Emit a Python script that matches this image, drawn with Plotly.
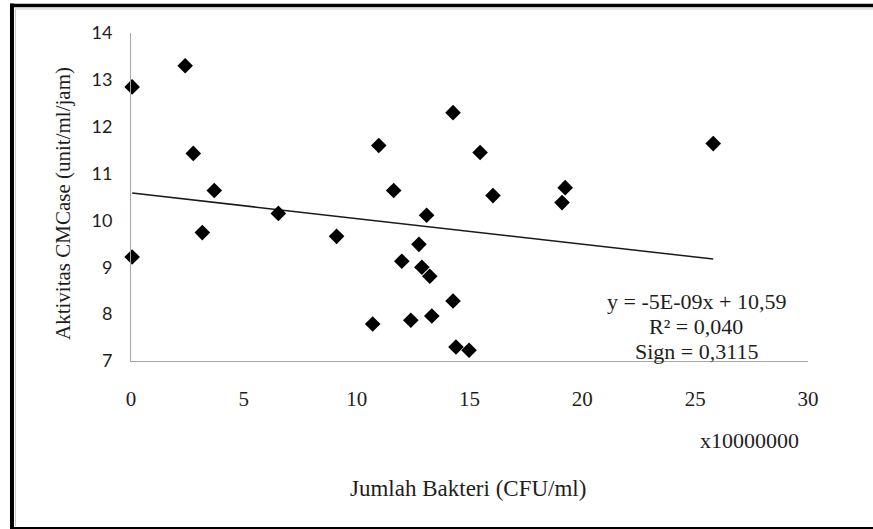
import numpy as np
import plotly.graph_objects as go

# Jumlah bakteri (x 10^7 CFU/ml) and CMCase activity (unit/ml/jam)
bakteri = [0.05, 0.05, 2.4, 2.76, 3.16, 3.69, 6.53, 9.11, 10.98, 10.71, 11.64, 12.0, 12.4,
           12.76, 12.89, 13.1, 13.24, 13.33, 14.27, 14.27, 14.4, 14.98, 15.47, 16.04,
           19.1, 19.24, 25.8]
aktivitas = [12.85, 9.22, 13.30, 11.43, 9.74, 10.64, 10.15, 9.66, 11.6, 7.79, 10.64, 9.13, 7.87,
             9.49, 9.0, 10.11, 8.81, 7.96, 12.3, 8.28, 7.3, 7.23, 11.45, 10.53,
             10.38, 10.70, 11.64]

x_ticks = [0, 5, 10, 15, 20, 25, 30]
y_ticks = [7, 8, 9, 10, 11, 12, 13, 14]

eq_lines = ["y = -5E-09x + 10,59", "R² = 0,040", "Sign = 0,3115"]
x_title = "Jumlah Bakteri (CFU/ml)"
y_title = "Aktivitas CMCase (unit/ml/jam)"
x_scale = "x10000000"

slope, intercept = np.polyfit(bakteri, aktivitas, 1)
trend_x = [min(bakteri), max(bakteri)]
trend_y = [intercept + slope * v for v in trend_x]

SERIF = "Liberation Serif, Times New Roman, serif"
TXT = "#1e1e1e"

fig = go.Figure()
fig.add_trace(go.Scatter(x=trend_x, y=trend_y, mode="lines",
                         line=dict(color="#1a1a1a", width=1.5),
                         hoverinfo="skip", showlegend=False))
fig.add_trace(go.Scatter(x=bakteri, y=aktivitas, mode="markers",
                         marker=dict(symbol="diamond", size=12, color="black"),
                         cliponaxis=False, showlegend=False))

eq_y = [0.1808, 0.1046, 0.0284]
annotations = [
    dict(text=line, xref="paper", yref="paper", x=0.8346, y=yy,
         xanchor="center", yanchor="middle", showarrow=False,
         font=dict(family=SERIF, size=22, color=TXT))
    for line, yy in zip(eq_lines, eq_y)
]
annotations += [
    dict(text=x_scale, xref="paper", yref="paper", x=0.9136, y=-0.2439,
         xanchor="center", yanchor="middle", showarrow=False,
         font=dict(family=SERIF, size=22, color=TXT)),
    dict(text=x_title, xref="paper", yref="paper", x=0.4985, y=-0.3902,
         xanchor="center", yanchor="middle", showarrow=False,
         font=dict(family=SERIF, size=23, color=TXT)),
    dict(text=y_title, xref="paper", yref="paper", x=-0.1004, y=0.4787,
         xanchor="center", yanchor="middle", showarrow=False, textangle=-90,
         font=dict(family=SERIF, size=21, color=TXT)),
]

fig.update_layout(
    width=873, height=529,
    margin=dict(l=131, r=65, t=33, b=168),
    paper_bgcolor="white", plot_bgcolor="white",
    showlegend=False,
    xaxis=dict(range=[0, 30], tickvals=x_ticks, showgrid=False, zeroline=False,
               showline=True, linecolor="#a6a6a6", linewidth=1,
               ticks="", ticklabelstandoff=19,
               tickfont=dict(family=SERIF, size=21, color=TXT)),
    yaxis=dict(range=[7, 14], tickvals=y_ticks, showgrid=False, zeroline=False,
               showline=True, linecolor="#a6a6a6", linewidth=1,
               ticks="", ticklabelstandoff=14,
               tickfont=dict(family="Lato, Open Sans, sans-serif", size=18, color=TXT)),
    annotations=annotations,
    shapes=[
        dict(type="line", xref="paper", yref="paper", x0=-0.1787, x1=1.0960, y0=1.0838, y1=1.0838,
             line=dict(color="black", width=3.5)),
        dict(type="line", xref="paper", yref="paper", x0=-0.1758, x1=-0.1758, y0=1.0900, y1=-0.5091,
             line=dict(color="black", width=4)),
        dict(type="line", xref="paper", yref="paper", x0=-0.1787, x1=1.0960, y0=-0.5091, y1=-0.5091,
             line=dict(color="black", width=2)),
        dict(type="line", xref="paper", yref="paper", x0=-0.1713, x1=1.0960, y0=1.0732, y1=1.0732,
             line=dict(color="#c8c8c8", width=1)),
        dict(type="line", xref="paper", yref="paper", x0=-0.1706, x1=-0.1706, y0=1.0732, y1=-0.503,
             line=dict(color="#c8c8c8", width=1)),
    ],
)

fig.write_html(
    "out.html",
    config={"displayModeBar": False},
    post_script="document.body.style.margin='0';document.body.style.overflow='hidden';",
)
